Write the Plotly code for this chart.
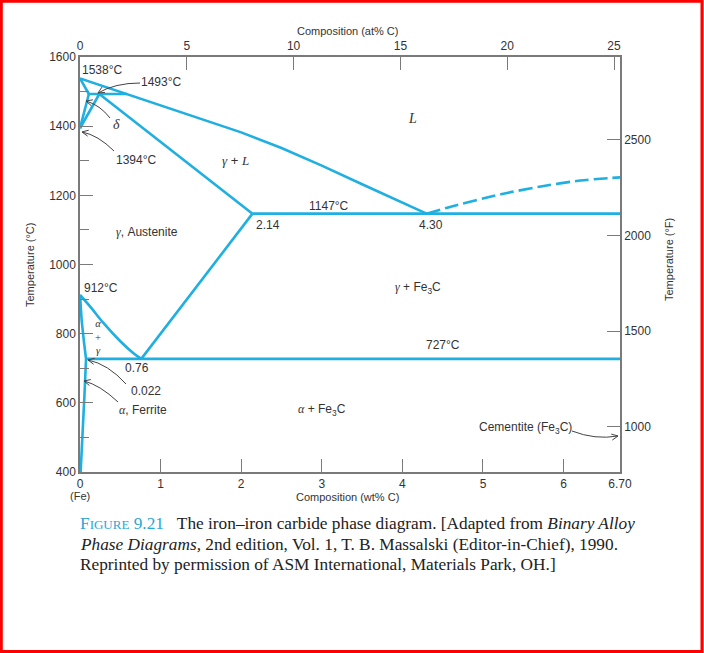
import math
import plotly.graph_objects as go

# ---------------- data (wt% C, temperature °C) ----------------
liquidus_wt = [0, 0.58, 1.0, 1.5, 2.0, 2.5, 3.0, 3.5, 4.0, 4.30]
liquidus_T = [1538, 1493, 1461, 1423, 1382, 1337, 1286, 1232, 1179, 1147]

delta_liq_wt = [0, 0.11]
delta_liq_T = [1538, 1493]

peritectic_wt = [0.11, 0.58]
peritectic_T = [1493, 1493]

delta_solvus_wt = [0, 0.11]
delta_solvus_T = [1394, 1493]

gamma_delta_wt = [0, 0.24]
gamma_delta_T = [1394, 1493]

solidus_wt = [0.24, 2.14]
solidus_T = [1493, 1147]

eutectic_wt = [2.14, 6.70]
eutectic_T = [1147, 1147]

acm_wt = [2.14, 0.76]
acm_T = [1147, 727]

a3_wt = [0, 0.124, 0.29, 0.50, 0.66, 0.76]
a3_T = [912, 879, 831, 778, 744, 727]

alpha_wt = [0, 0.02, 0.05, 0.075, 0.055, 0.03, 0.008]
alpha_T = [912, 840, 774, 727, 620, 500, 400]

eutectoid_wt = [0.075, 6.70]
eutectoid_T = [727, 727]

cem_liq_wt = [4.30, 4.6, 5.22, 5.7, 6.21, 6.70]
cem_liq_T = [1147, 1167, 1203, 1225, 1243, 1252]

wt_ticks = [0, 1, 2, 3, 4, 5, 6, 6.70]
wt_ticktext = ["0", "1", "2", "3", "4", "5", "6", "6.70"]
at_ticks = [0, 5, 10, 15, 20, 25]
degC_ticks = [400, 600, 800, 1000, 1200, 1400, 1600]
degC_minor = [500, 700, 900, 1100, 1300, 1500]
degF_ticks = [1000, 1500, 2000, 2500]

# ---------------- layout geometry ----------------
W, H = 704, 653
L, R, T, B = 80, 84, 57, 181
PW, PH = W - L - R, H - T - B

LINE = "#1fafe0"
AX = "#7a7a7a"
TXT = "#333333"
SANS = "Liberation Sans, Arial, sans-serif"
SERIF = "Liberation Serif, Times New Roman, serif"


def pp(px, py):
    """pixel -> paper coords"""
    return (px - L) / PW, (T + PH - py) / PH


fig = go.Figure()

segments = [
    (liquidus_wt, liquidus_T, "solid", "linear"),
    (delta_liq_wt, delta_liq_T, "solid", "linear"),
    (peritectic_wt, peritectic_T, "solid", "linear"),
    (delta_solvus_wt, delta_solvus_T, "solid", "linear"),
    (gamma_delta_wt, gamma_delta_T, "solid", "linear"),
    (solidus_wt, solidus_T, "solid", "linear"),
    (eutectic_wt, eutectic_T, "solid", "linear"),
    (acm_wt, acm_T, "solid", "linear"),
    (a3_wt, a3_T, "solid", "spline"),
    (alpha_wt, alpha_T, "solid", "linear"),
    (eutectoid_wt, eutectoid_T, "solid", "linear"),
    (cem_liq_wt, cem_liq_T, "14px,5px", "spline"),
]
for xs, ys, dash, shp in segments:
    fig.add_trace(go.Scatter(
        x=xs, y=ys, mode="lines",
        line=dict(color=LINE, width=2.6, dash=dash, shape=shp, smoothing=0.6),
        showlegend=False, hoverinfo="skip", cliponaxis=False,
    ))

# dummy trace so secondary axes are drawn
fig.add_trace(go.Scatter(x=[0], y=[1000], xaxis="x2", yaxis="y2", mode="markers",
                         marker=dict(opacity=0), showlegend=False, hoverinfo="skip"))

tickfont = dict(family=SANS, size=12, color=TXT)
common = dict(showgrid=False, zeroline=False, showline=True, linecolor=AX, linewidth=1.5,
              ticks="inside", ticklen=13, tickcolor=AX, tickwidth=1, tickfont=tickfont)

fig.update_layout(
    width=W, height=H,
    margin=dict(l=L, r=R, t=T, b=B, pad=0),
    paper_bgcolor="white", plot_bgcolor="white",
    xaxis=dict(range=[0, 6.70], tickvals=wt_ticks, ticktext=wt_ticktext, **common),
    xaxis2=dict(range=[0, 25.28], tickvals=at_ticks, overlaying="x", side="top", **common),
    yaxis=dict(range=[400, 1600], tickvals=degC_ticks,
               minor=dict(tickvals=degC_minor, ticks="inside", ticklen=9, tickcolor=AX), **common),
    yaxis2=dict(range=[763, 2934], tickvals=degF_ticks, overlaying="y", side="right", **common),
)

anns = []


def label(text, px, py, size=12, family=SANS, angle=0, xanchor="center", color=TXT):
    x, y = pp(px, py)
    anns.append(dict(text=text, x=x, y=y, xref="paper", yref="paper", showarrow=False,
                     xanchor=xanchor, yanchor="middle", textangle=angle,
                     font=dict(family=family, size=size, color=color)))


def g(s):
    return f"<span style=\"font-family:'Liberation Serif';font-style:italic\">{s}</span>"


label("1538°C", 102, 70)
label("1493°C", 161, 82)
label(g("δ"), 116, 125, size=14)
label("1394°C", 136, 160)
label(g("γ") + " + " + g("L"), 236, 160, size=13)
label(g("L"), 412, 118, size=14)
label("1147°C", 329, 206)
label("2.14", 268, 225)
label("4.30", 431, 225)
label(g("γ") + ", Austenite", 147, 232)
label("912°C", 101, 288)
label(g("γ") + " + Fe<sub>3</sub>C", 418, 288)
label(g("α") + "<br>+<br>" + g("γ"), 98, 337, size=10.5, family=SERIF)
label("727°C", 443, 345)
label("0.76", 137, 368)
label("0.022", 146, 391)
label(g("α") + ", Ferrite", 143, 410)
label(g("α") + " + Fe<sub>3</sub>C", 322, 410)
label("Cementite (Fe<sub>3</sub>C)", 525, 428)

# axis titles
label("Composition (at% C)", 347, 31, size=11)
label("Composition (wt% C)", 347, 497, size=11)
label("(Fe)", 80, 496, size=11)
label("Temperature (°C)", 30, 265, size=11, angle=-90)
label("Temperature (°F)", 669, 260, size=11, angle=-90)

# caption (three lines)
cap_lines = [
    "<span style='color:#2aa6d8'>F<span style='font-size:13px'>IGURE</span> 9.21</span>"
    "\u00a0\u00a0\u00a0The iron–iron carbide phase diagram. [Adapted from <i>Binary Alloy</i>",
    "<i>Phase Diagrams,</i> 2nd edition, Vol. 1, T. B. Massalski (Editor-in-Chief), 1990.",
    "Reprinted by permission of ASM International, Materials Park, OH.]",
]
for line_text, ly in zip(cap_lines, [523, 544, 564]):
    label(line_text, 78, ly, size=17.3, family=SERIF, xanchor="left", color="#222222")

shapes = []


def curved_arrow(tail, ctrl, head):
    t = pp(*tail)
    c = pp(*ctrl)
    h = pp(*head)
    shapes.append(dict(type="path", xref="paper", yref="paper",
                       path=f"M {t[0]},{t[1]} Q {c[0]},{c[1]} {h[0]},{h[1]}",
                       line=dict(color="#444444", width=1)))
    dx, dy = ctrl[0] - head[0], ctrl[1] - head[1]
    n = math.hypot(dx, dy)
    dx, dy = dx / n, dy / n
    pts = []
    for ang in (0.45, -0.45):
        rx = dx * math.cos(ang) - dy * math.sin(ang)
        ry = dx * math.sin(ang) + dy * math.cos(ang)
        pts.append(pp(head[0] + 7 * rx, head[1] + 7 * ry))
    shapes.append(dict(type="path", xref="paper", yref="paper",
                       path=f"M {pts[0][0]},{pts[0][1]} L {h[0]},{h[1]} L {pts[1][0]},{pts[1][1]}",
                       line=dict(color="#444444", width=1)))


curved_arrow((140, 83), (115, 83), (98, 93))
curved_arrow((110, 118), (100, 105), (86, 101))
curved_arrow((114, 151), (98, 135), (82, 132))
curved_arrow((126, 384), (108, 364), (88, 360))
curved_arrow((118, 402), (100, 385), (84, 381))
curved_arrow((572, 431), (595, 440), (618, 436))

# red frame around the whole image
x0, y0 = pp(1.3, 1.3)
x1, y1 = pp(702, 651.5)
shapes.append(dict(type="rect", xref="paper", yref="paper", x0=x0, y0=y0, x1=x1, y1=y1,
                   line=dict(color="#ff0000", width=3), layer="above"))

fig.update_layout(annotations=anns, shapes=shapes)
fig.write_html("out.html")
